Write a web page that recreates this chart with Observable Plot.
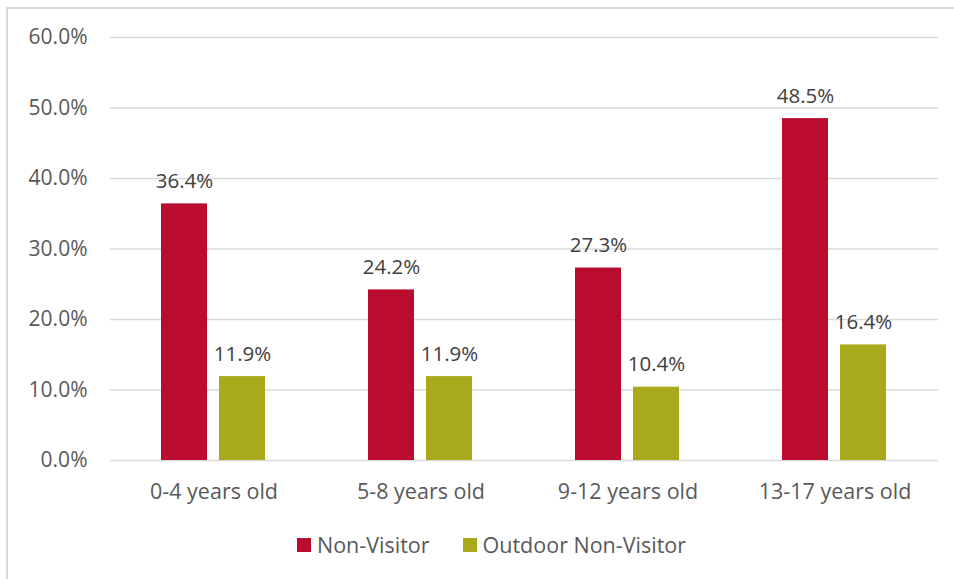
<!DOCTYPE html>
<html>
<head>
<meta charset="utf-8">
<script src="https://cdn.jsdelivr.net/npm/d3@7"></script>
<script src="https://cdn.jsdelivr.net/npm/@observablehq/plot@0.6"></script>
<style>
  html, body { margin: 0; padding: 0; background: #fff; }
  #wrap { position: relative; width: 954px; height: 579px; overflow: hidden; font-family: "Open Sans", Lato, sans-serif; }
  #frame { position: absolute; left: 6px; top: 7px; width: 1000px; height: 1000px; border-left: 2px solid #d9d9d9; border-top: 2px solid #d9d9d9; box-sizing: border-box; }
  #chart { position: absolute; left: 0; top: 0; }
  #legend { position: absolute; left: 297px; top: 530px; display: flex; align-items: center; font-size: 21.5px; color: #595959; }
  #legend .item { display: flex; align-items: center; }
  #legend .sw { width: 14px; height: 14px; margin-right: 6px; }
</style>
</head>
<body>
<div id="wrap">
  <div id="frame"></div>
  <div id="chart"></div>
  <div id="legend"></div>
</div>
<script>
const categories = ["0-4 years old", "5-8 years old", "9-12 years old", "13-17 years old"];
const series = ["Non-Visitor", "Outdoor Non-Visitor"];
const nonVisitor = [36.4, 24.2, 27.3, 48.5];
const outdoorNonVisitor = [11.9, 11.9, 10.4, 16.4];
const colors = ["#BA0C2F", "#A8A91B"];
const yTicks = [0, 10, 20, 30, 40, 50, 60];

const data = [];
categories.forEach((c, i) => {
  data.push({category: c, series: series[0], value: nonVisitor[i]});
  data.push({category: c, series: series[1], value: outdoorNonVisitor[i]});
});

const chart = Plot.plot({
  width: 954,
  height: 520,
  marginLeft: 109,
  marginRight: 16,
  marginTop: 37,
  marginBottom: 60,
  style: {fontFamily: "'Open Sans', Lato, sans-serif", fontSize: "20px", color: "#595959", background: "transparent"},
  fx: {domain: categories, padding: 0, label: null},
  x: {domain: series, paddingInner: 0.203, paddingOuter: 0.858, axis: null},
  y: {domain: [0, 60], ticks: yTicks, label: null},
  color: {domain: series, range: colors},
  marks: [
    Plot.ruleY(yTicks, {stroke: "#d9d9d9", strokeWidth: 1.5}),
    Plot.barY(data, {fx: "category", x: "series", y: "value", fill: "series"}),
    Plot.text(data, {fx: "category", x: "series", y: "value", text: d => d.value.toFixed(1) + "%", dy: -16, lineAnchor: "bottom", fill: "#404040", fontSize: 20.5}),
    Plot.axisY({ticks: yTicks, tickSize: 0, tickPadding: 23, tickFormat: d => d.toFixed(1) + "%", fontSize: 21, label: null}),
    Plot.axisFx({anchor: "bottom", tickSize: 0, tickPadding: 23, fontSize: 21.5, label: null})
  ]
});
document.getElementById("chart").appendChild(chart);

const legend = document.getElementById("legend");
series.forEach((s, i) => {
  const item = document.createElement("div");
  item.className = "item";
  if (i > 0) item.style.marginLeft = "33px";
  const sw = document.createElement("div");
  sw.className = "sw";
  sw.style.background = colors[i];
  const t = document.createElement("span");
  t.textContent = s;
  item.appendChild(sw);
  item.appendChild(t);
  legend.appendChild(item);
});
</script>
</body>
</html>
